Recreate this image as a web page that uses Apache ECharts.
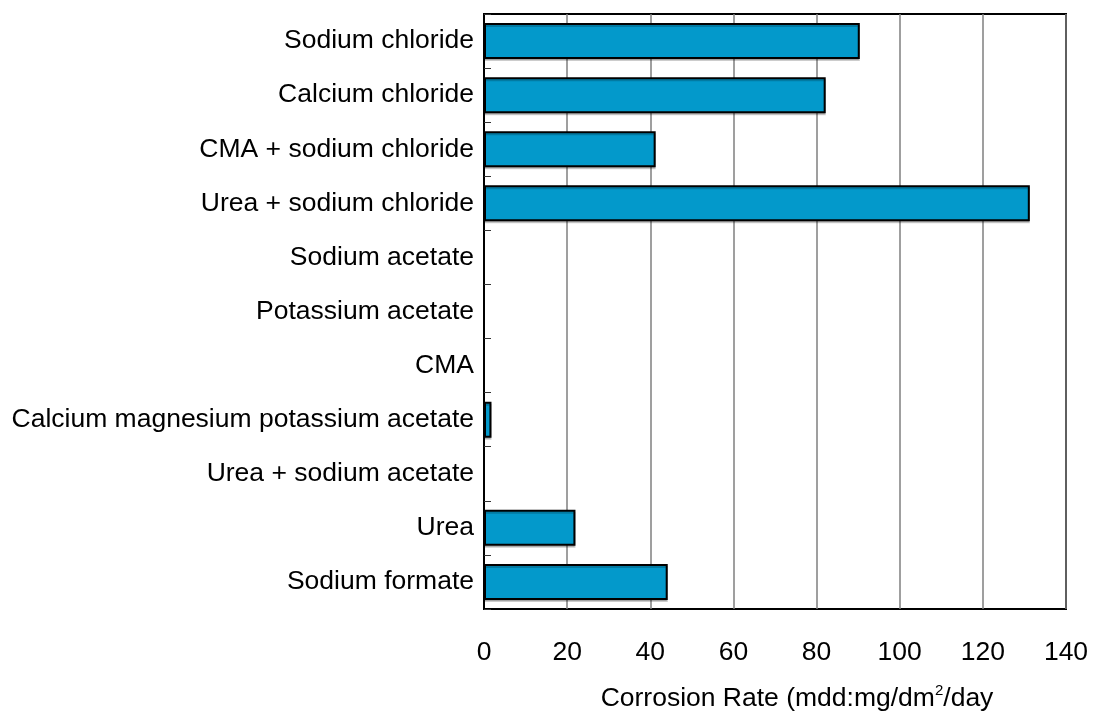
<!DOCTYPE html>
<html>
<head>
<meta charset="utf-8">
<script src="https://cdn.jsdelivr.net/npm/echarts@6/dist/echarts.min.js"></script>
<style>
  html, body { margin: 0; padding: 0; background: #fff; }
  #chart { width: 1094px; height: 711px; }
</style>
</head>
<body>
<div id="chart"></div>
<script>
const categories = [
  'Sodium chloride',
  'Calcium chloride',
  'CMA + sodium chloride',
  'Urea + sodium chloride',
  'Sodium acetate',
  'Potassium acetate',
  'CMA',
  'Calcium magnesium potassium acetate',
  'Urea + sodium acetate',
  'Urea',
  'Sodium formate'
];
const corrosionRate = [90.4, 82.2, 41.3, 131.3, 0, 0, 0, 1.8, 0, 22.0, 44.2];
const xTicks = [0, 20, 40, 60, 80, 100, 120, 140];

const FONT = '"Liberation Sans", Arial, sans-serif';
const chart = echarts.init(document.getElementById('chart'), null, { renderer: 'canvas' });
chart.setOption({
  animation: false,
  backgroundColor: '#ffffff',
  grid: {
    left: 484, top: 14, right: 28, bottom: 102,
    containLabel: false,
    outerBoundsMode: 'none',
    show: true, borderColor: '#000', borderWidth: 2, backgroundColor: 'transparent'
  },
  xAxis: {
    type: 'value',
    min: xTicks[0],
    max: xTicks[xTicks.length - 1],
    interval: 20,
    axisLine: { show: false },
    axisTick: { show: false },
    splitLine: { show: true, lineStyle: { color: '#7f7f7f', width: 1.5 } },
    axisLabel: { fontFamily: FONT, fontSize: 26.5, color: '#000', margin: 30 },
    name: 'Corrosion Rate (mdd:mg/dm{sup|2}/day',
    nameLocation: 'middle',
    nameGap: 74,
    nameTextStyle: {
      fontFamily: FONT, fontSize: 26.5, color: '#000',
      padding: [0, 0, 0, 44],
      rich: { sup: { fontFamily: FONT, fontSize: 15, color: '#000', verticalAlign: 'top', padding: [0, 0, 17, 0] } }
    }
  },
  yAxis: {
    type: 'category',
    data: categories,
    inverse: true,
    axisLine: { show: true, lineStyle: { color: '#000', width: 2 } },
    axisTick: { show: true, inside: true, length: 7, lineStyle: { color: '#333', width: 1 } },
    axisLabel: { fontFamily: FONT, fontSize: 26.5, color: '#000', margin: 10 },
    splitLine: { show: false }
  },
  series: [{
    type: 'bar',
    data: corrosionRate,
    barWidth: 36,
    itemStyle: {
      color: '#0399cb',
      borderColor: '#000',
      borderWidth: 2,
      shadowColor: 'rgba(0,0,0,0.2)',
      shadowOffsetY: 2,
      shadowBlur: 0
    }
  }]
});
</script>
</body>
</html>
